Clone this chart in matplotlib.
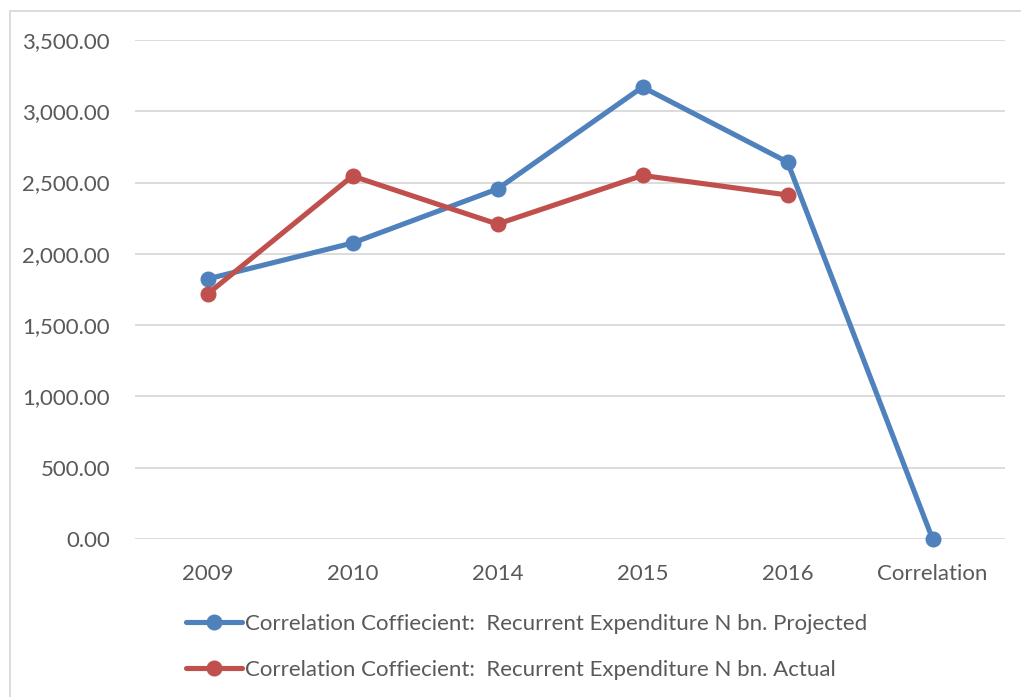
import matplotlib.pyplot as plt
from matplotlib.ticker import FuncFormatter
from matplotlib.patches import Rectangle

categories = ["2009", "2010", "2014", "2015", "2016", "Correlation"]
projected = [1824, 2076, 2455, 3170, 2644, 0.9]
actual = [1718, 2546, 2209, 2550, 2413]

label_proj = "Correlation Coffiecient:  Recurrent Expenditure N bn. Projected"
label_act = "Correlation Coffiecient:  Recurrent Expenditure N bn. Actual"

txt = "#595959"
plt.rcParams['font.family'] = ['Lato', 'DejaVu Sans']

fig = plt.figure(figsize=(10.21, 6.97), dpi=100)
ax = fig.add_axes([135/1021, 1-539/697, 870/1021, 499/697])

x = list(range(len(categories)))
ax.plot(x, projected, color="#4f81bd", lw=3.7, marker="o", ms=10.5,
        solid_capstyle="round", label=label_proj, zorder=3, clip_on=False)
ax.plot(x[:len(actual)], actual, color="#c0504d", lw=3.7, marker="o", ms=10.5,
        solid_capstyle="round", label=label_act, zorder=3, clip_on=False)

ax.set_xlim(-0.5, len(categories) - 0.5)
ax.set_ylim(0, 3500)
ax.set_yticks(range(0, 3501, 500))
ax.yaxis.set_major_formatter(FuncFormatter(lambda v, p: f"{v:,.2f}"))
ax.set_xticks(x)
ax.set_xticklabels(categories)
ax.grid(axis="y", color="#d9d9d9", lw=1.3)
ax.set_axisbelow(True)
for s in ax.spines.values():
    s.set_visible(False)
ax.tick_params(length=0, labelsize=16, colors=txt)
ax.tick_params(axis="y", pad=18)
ax.tick_params(axis="x", pad=18)

fig.patches.append(Rectangle((10/1021, -0.05), 1.1, 1 - 11/697 + 0.05,
                             transform=fig.transFigure, fill=False,
                             edgecolor="#d9d9d9", lw=1.3))

leg = fig.legend(loc="upper left", bbox_to_anchor=(186/1021, 1-614/697),
                 frameon=False, fontsize=16, handlelength=2.5,
                 handletextpad=0.15, labelspacing=1.15, labelcolor=txt,
                 borderaxespad=0, borderpad=0)

fig.savefig("out.png", dpi=100)
